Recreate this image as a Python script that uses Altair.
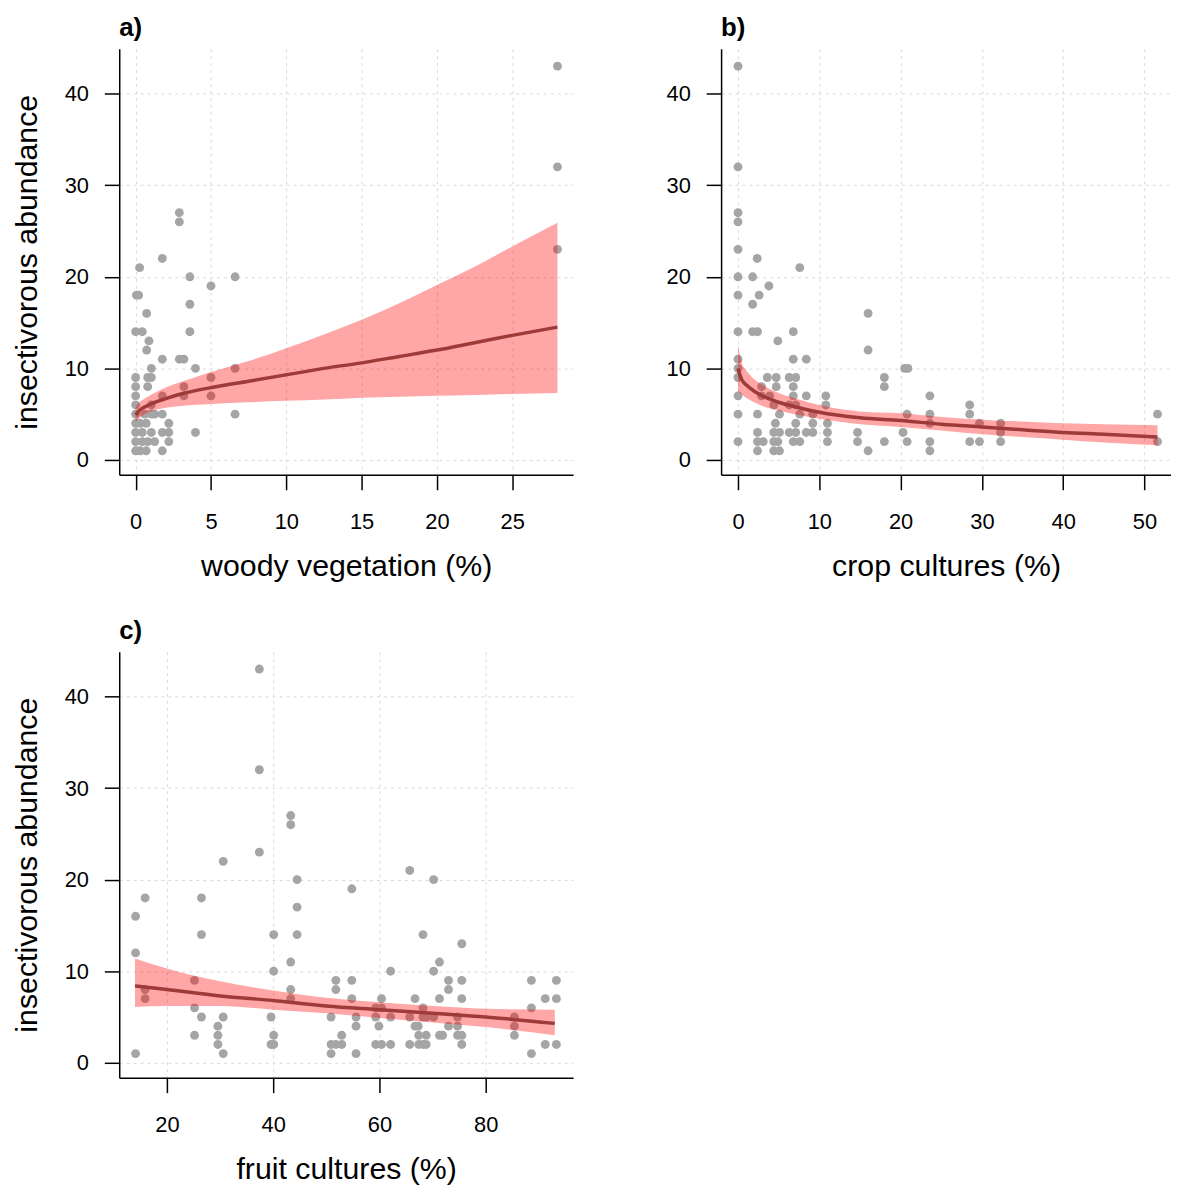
import altair as alt
import pandas as pd

# ---------------- data ----------------
Y_ABUND_LABEL = "insectivorous abundance"

# panel a: woody vegetation
a_x = [2.9, 2.9, 1.77, 0.26, 3.6, 6.6, 5.0, 0.05, 0.2, 0.73, 3.6, 0, 0.44, 3.6, 0.88, 0.73, 1.77, 2.9, 3.2,
       1.04, 3.97, 6.6, 0, 0.8, 1.04, 5.0, 0, 0.8, 3.2, 0, 1.77, 3.2, 5.0, 0, 1.04, 0, 0.6, 1.04, 1.26, 1.77,
       6.6, 0, 0.3, 0.7, 2.2, 0, 0.44, 1.04, 1.77, 2.2, 3.97, 0, 0.44, 0.8, 1.26, 2.2, 0, 0.3, 0.7, 1.77,
       28, 28, 28]
a_y = [27, 26, 22, 21, 20, 20, 19, 18, 18, 16, 17, 14, 14, 14, 13, 12, 11, 11, 11,
       10, 10, 10, 9, 9, 9, 9, 8, 8, 8, 7, 7, 7, 7, 6, 6, 5, 5, 5, 5, 5,
       5, 4, 4, 4, 4, 3, 3, 3, 3, 3, 3, 2, 2, 2, 2, 2, 1, 1, 1, 1,
       43, 32, 23]
a_cx = [0, 0.25, 0.5, 1, 2, 3, 5, 7.5, 10, 12.5, 15, 17.5, 20, 22.5, 25, 28]
a_fit = [4.9, 5.4, 5.7, 6.1, 6.7, 7.2, 7.9, 8.6, 9.3, 10.0, 10.6, 11.3, 12.0, 12.8, 13.6, 14.5]
a_hi = [5.8, 6.3, 6.6, 7.1, 7.9, 8.5, 9.6, 10.8, 12.2, 13.7, 15.3, 17.1, 19.1, 21.1, 23.3, 25.9]
a_lo = [4.1, 4.6, 4.9, 5.3, 5.7, 5.9, 6.1, 6.3, 6.45, 6.6, 6.8, 6.9, 7.0, 7.1, 7.2, 7.3]

# panel b: crop cultures
b_x = [0, 0, 0, 0, 0, 2.36, 7.6, 0, 1.8, 0, 2.6, 3.8, 1.8, 0, 1.8, 2.4, 6.8, 4.9, 16, 16, 0, 6.8, 8.4,
       0, 20.5, 20.9, 0, 3.6, 4.7, 6.3, 7.1, 18, 2.9, 4.7, 6.8, 18, 0, 2.9, 3.9, 6.8, 8.4, 10.8, 23.6,
       4.4, 6.3, 7.1, 10.8, 28.5, 0, 2.4, 5.1, 7.6, 9.2, 20.8, 23.6, 28.5, 51.6, 4.6, 7.1, 9.2, 11.0,
       23.6, 29.7, 32.3, 2.4, 4.4, 5.1, 6.3, 7.1, 8.4, 9.2, 11.0, 14.7, 20.3, 32.3, 0, 2.4, 3.1, 4.4,
       4.9, 6.8, 7.6, 11.0, 14.7, 18.0, 20.8, 23.6, 28.5, 29.7, 32.3, 51.6, 2.4, 4.4, 5.1, 16.0, 23.6]
b_y = [43, 32, 27, 26, 23, 22, 21, 20, 20, 18, 18, 19, 17, 14, 14, 14, 14, 13, 16, 12, 11, 11, 11,
       10, 10, 10, 9, 9, 9, 9, 9, 9, 8, 8, 8, 8, 7, 7, 7, 7, 7, 7, 7,
       6, 6, 6, 6, 6, 5, 5, 5, 5, 5, 5, 5, 5, 5, 4, 4, 4, 4,
       4, 4, 4, 3, 3, 3, 3, 3, 3, 3, 3, 3, 3, 3, 2, 2, 2, 2,
       2, 2, 2, 2, 2, 2, 2, 2, 2, 2, 2, 2, 1, 1, 1, 1, 1]
b_cx = [0, 0.25, 0.5, 1, 2, 3, 5, 7.5, 10, 15, 20, 25, 30, 35, 40, 45, 51.6]
b_fit = [10.0, 9.2, 8.7, 8.2, 7.5, 7.0, 6.3, 5.7, 5.2, 4.6, 4.3, 3.9, 3.6, 3.3, 3.0, 2.8, 2.5]
b_hi = [12.6, 11.3, 10.5, 9.8, 8.8, 8.2, 7.3, 6.6, 6.0, 5.3, 5.1, 4.7, 4.4, 4.2, 4.0, 3.9, 3.8]
b_lo = [7.5, 7.3, 7.1, 6.8, 6.3, 5.9, 5.4, 4.9, 4.5, 3.9, 3.6, 3.2, 2.8, 2.5, 2.2, 1.9, 1.6]

# panel c: fruit cultures
c_x = [37.4, 37.4, 43.3, 43.3, 37.4, 30.6, 44.5, 15.9, 26.5, 44.5, 14.1, 40.1, 26.5, 44.5, 14.1, 43.3,
       40.1, 25.2, 51.8, 15.9, 15.9, 43.3, 43.3, 51.8, 25.2, 26.5, 30.6, 39.6, 50.9, 29.6, 25.2, 29.6,
       40.1, 52.9, 29.6, 39.6, 40.1, 50.9, 51.8, 52.9, 14.1, 30.6, 50.9,
       65.7, 70.2, 54.8, 68.2, 75.5, 71.3, 62.1, 70.2, 54.8, 73.0, 75.5, 88.6, 93.3, 73.0, 91.2, 93.3,
       54.8, 60.4, 66.7, 71.3, 75.5, 88.6, 59.3, 60.4, 68.2, 85.4, 55.6, 59.3, 62.1, 65.7, 68.2, 68.8,
       70.2, 74.7, 85.4, 55.6, 59.9, 66.7, 67.3, 73.0, 74.7, 85.4, 67.4, 68.8, 71.3, 71.9, 74.7, 75.5,
       59.3, 60.4, 62.1, 65.7, 67.4, 68.2, 68.8, 75.5, 91.2, 93.3, 55.6, 88.6]
c_y = [43, 32, 27, 26, 23, 22, 20, 18, 18, 17, 16, 14, 14, 14, 12, 11,
       10, 9, 9, 8, 7, 8, 7, 8, 6, 5, 5, 5, 5, 4, 3, 3,
       3, 3, 2, 2, 2, 2, 2, 2, 1, 1, 1,
       21, 20, 19, 14, 13, 11, 10, 10, 9, 9, 9, 9, 9, 8, 7, 7,
       7, 7, 7, 7, 7, 6, 6, 6, 6, 5, 5, 5, 5, 5, 5, 5,
       5, 5, 4, 4, 4, 4, 4, 4, 4, 3, 3, 3, 3, 3, 3, 3,
       2, 2, 2, 2, 2, 2, 2, 2, 2, 2, 1, 1]
c_cx = [14, 20, 30, 40, 50, 60, 70, 80, 93]
c_fit = [8.4, 8.0, 7.3, 6.8, 6.2, 5.8, 5.4, 5.0, 4.3]
c_hi = [11.4, 10.3, 8.9, 7.9, 7.1, 6.6, 6.2, 5.9, 5.8]
c_lo = [6.1, 6.2, 6.2, 5.8, 5.4, 4.9, 4.4, 3.9, 3.0]

Y_TICKS = [0, 10, 20, 30, 40]
Y_DOMAIN = [-1.63, 44.9]

FONT = "Liberation Sans"


def panel(px, py, cx, cfit, clo, chi, xdom, xticks, xtitle, ytitle, lab, width):
    pts = pd.DataFrame({"x": px, "y": py})
    cur = pd.DataFrame({"x": cx, "fit": cfit, "lo": clo, "hi": chi})
    xs = alt.Scale(domain=xdom, nice=False, zero=False)
    ys = alt.Scale(domain=Y_DOMAIN, nice=False, zero=False)
    xax = alt.Axis(values=xticks, title=xtitle)
    yax = alt.Axis(values=Y_TICKS, title=ytitle)
    points = alt.Chart(pts).mark_circle(size=80, color="#A5A5A5", opacity=1).encode(
        x=alt.X("x:Q", scale=xs, axis=xax),
        y=alt.Y("y:Q", scale=ys, axis=yax),
    )
    band = alt.Chart(cur).mark_area(color="#FF0000", opacity=0.35, interpolate="monotone").encode(
        x=alt.X("x:Q", scale=xs),
        y=alt.Y("lo:Q", scale=ys),
        y2="hi:Q",
    )
    line = alt.Chart(cur).mark_line(color="#9E3B38", strokeWidth=3.5, interpolate="monotone").encode(
        x=alt.X("x:Q", scale=xs),
        y=alt.Y("fit:Q", scale=ys),
    )
    return alt.layer(points, band, line).properties(
        width=width, height=429,
        title=alt.TitleParams(text=lab, anchor="start", frame="group", fontSize=26, fontWeight="bold",
                              font=FONT, color="black", offset=8),
    )


pa = panel(a_x, a_y, a_cx, a_fit, a_lo, a_hi, [-1.09, 29.04], [0, 5, 10, 15, 20, 25],
           "woody vegetation (%)", Y_ABUND_LABEL, "a)", 457)
pb = panel(b_x, b_y, b_cx, b_fit, b_lo, b_hi, [-2.08, 53.26], [0, 10, 20, 30, 40, 50],
           "crop cultures (%)", "", "b)", 453)
pc = panel(c_x, c_y, c_cx, c_fit, c_lo, c_hi, [11.03, 96.45], [20, 40, 60, 80],
           "fruit cultures (%)", Y_ABUND_LABEL, "c)", 457)

chart = alt.concat(pa, pb, pc, columns=2, spacing={"row": 178, "column": 149}, bounds="flush").properties(
    padding={"left": 4, "top": 3, "right": 0, "bottom": 0}
).configure_view(strokeWidth=0).configure_axis(
    domainColor="black", domainWidth=1.5, tickColor="black", tickWidth=1.5, tickSize=15,
    labelFont=FONT, labelFontSize=22, labelColor="black",
    titleFont=FONT, titleFontSize=30.5, titleFontWeight="normal", titleColor="black",
    grid=True, gridColor="#D9D9D9", gridDash=[3, 4], gridWidth=1,
).configure_axisX(labelPadding=22, titlePadding=19).configure_axisY(labelPadding=16, titlePadding=22)

chart.save("out.html", embed_options={"renderer": "svg", "actions": False})
